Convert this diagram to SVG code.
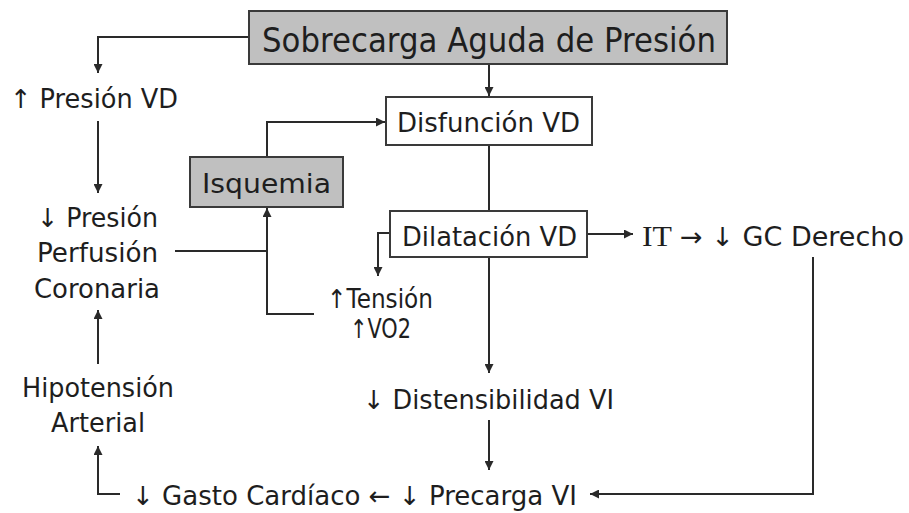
<svg xmlns="http://www.w3.org/2000/svg" width="909" height="513" viewBox="0 0 909 513">
<style>
.t{font-family:"DejaVu Sans","Liberation Sans",sans-serif;font-size:26px;fill:#1e1e1e}
.big{font-size:34px}
.serif{font-family:"Liberation Serif",serif;font-size:29px}
.box{stroke:#3a3a3a;stroke-width:2}
.gray{fill:#c0c0c0}
.white{fill:#ffffff}
.c{fill:none;stroke:#2a2a2a;stroke-width:2}
</style>
<defs>
<marker id="ah" viewBox="0 0 10 10" refX="10" refY="5" markerWidth="9" markerHeight="9" markerUnits="userSpaceOnUse" orient="auto">
<path d="M0,0 L10,5 L0,10 Z" fill="#2a2a2a"/>
</marker>
</defs>
<rect width="909" height="513" fill="#ffffff"/>
<g id="connectors">
<path class="c" d="M249,37 H98 V73" marker-end="url(#ah)"/>
<path class="c" d="M489,65 V96" marker-end="url(#ah)"/>
<path class="c" d="M98,121 V193" marker-end="url(#ah)"/>
<path class="c" d="M98,364 V310" marker-end="url(#ah)"/>
<path class="c" d="M120,494 H98 V446" marker-end="url(#ah)"/>
<path class="c" d="M175,251 H267"/>
<path class="c" d="M314,314 H267 V208" marker-end="url(#ah)"/>
<path class="c" d="M267,157 V122 H385" marker-end="url(#ah)"/>
<path class="c" d="M489,145 V211"/>
<path class="c" d="M390,233 H378 V276" marker-end="url(#ah)"/>
<path class="c" d="M587,234 H633" marker-end="url(#ah)"/>
<path class="c" d="M489,257 V373" marker-end="url(#ah)"/>
<path class="c" d="M489,420 V470" marker-end="url(#ah)"/>
<path class="c" d="M813,257 V494 H590" marker-end="url(#ah)"/>
</g>
<g id="sobrecarga">
<rect class="box gray" x="249" y="11" width="478" height="53"/>
<text class="t big" x="262" y="52" textLength="454" lengthAdjust="spacingAndGlyphs">Sobrecarga Aguda de Presión</text>
</g>
<g id="presion-vd">
<text class="t" x="10" y="108" textLength="168" lengthAdjust="spacingAndGlyphs">↑ Presión VD</text>
</g>
<g id="perfusion">
<text class="t" x="37" y="227" textLength="121" lengthAdjust="spacingAndGlyphs">↓ Presión</text>
<text class="t" x="37" y="262" textLength="121" lengthAdjust="spacingAndGlyphs">Perfusión</text>
<text class="t" x="34" y="298" textLength="126" lengthAdjust="spacingAndGlyphs">Coronaria</text>
</g>
<g id="hipotension">
<text class="t" x="22" y="397" textLength="152" lengthAdjust="spacingAndGlyphs">Hipotensión</text>
<text class="t" x="51" y="432" textLength="94" lengthAdjust="spacingAndGlyphs">Arterial</text>
</g>
<g id="isquemia">
<rect class="box gray" x="190" y="157" width="153" height="50"/>
<text class="t" x="202" y="193" textLength="129" lengthAdjust="spacingAndGlyphs">Isquemia</text>
</g>
<g id="disfuncion">
<rect class="box white" x="386" y="97" width="206" height="48"/>
<text class="t" x="397" y="132" textLength="183" lengthAdjust="spacingAndGlyphs">Disfunción VD</text>
</g>
<g id="dilatacion">
<rect class="box white" x="390" y="211" width="197" height="46"/>
<text class="t" x="402" y="246" textLength="175" lengthAdjust="spacingAndGlyphs">Dilatación VD</text>
</g>
<g id="gc-derecho">
<text class="t serif" x="642" y="246" textLength="30" lengthAdjust="spacingAndGlyphs">IT</text>
<text class="t" x="680" y="246" textLength="224" lengthAdjust="spacingAndGlyphs">→ ↓ GC Derecho</text>
</g>
<g id="tension">
<text class="t" x="327" y="308" textLength="106" lengthAdjust="spacingAndGlyphs">↑Tensión</text>
<text class="t" x="350" y="338" textLength="61" lengthAdjust="spacingAndGlyphs">↑VO2</text>
</g>
<g id="distensibilidad">
<text class="t" x="363" y="409" textLength="251" lengthAdjust="spacingAndGlyphs">↓ Distensibilidad VI</text>
</g>
<g id="gasto-precarga">
<text class="t" x="132" y="505" textLength="445" lengthAdjust="spacingAndGlyphs">↓ Gasto Cardíaco ← ↓ Precarga VI</text>
</g>
</svg>
